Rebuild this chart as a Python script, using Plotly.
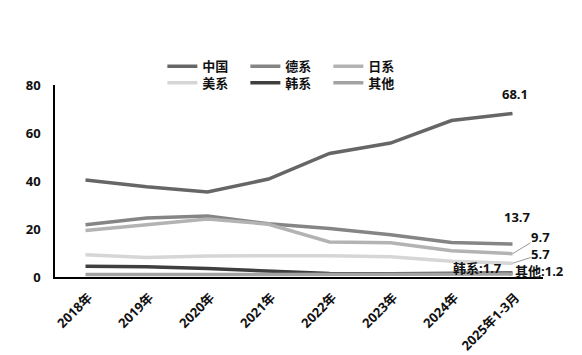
import plotly.graph_objects as go

categories = ["2018年", "2019年", "2020年", "2021年", "2022年", "2023年", "2024年", "2025年1-3月"]
china = [40.4, 37.6, 35.4, 40.8, 51.5, 55.8, 65.2, 68.1]
german = [21.8, 24.6, 25.4, 22.2, 20.2, 17.6, 14.4, 13.7]
japan = [19.4, 21.8, 24.2, 22.0, 14.6, 14.3, 10.9, 9.7]
usa = [9.3, 8.1, 8.8, 8.9, 8.9, 8.4, 6.6, 5.7]
korea = [4.5, 4.3, 3.5, 2.4, 1.5, 1.4, 1.6, 1.7]
others = [1.0, 1.0, 1.1, 1.1, 1.0, 1.1, 1.2, 1.2]
y_ticks = [0, 20, 40, 60, 80]

FONT = "Open Sans, Noto Sans CJK SC, sans-serif"

series = [
    ("中国", china, "#666666", "legend"),
    ("德系", german, "#858585", "legend"),
    ("日系", japan, "#b3b3b3", "legend"),
    ("美系", usa, "#d6d6d6", "legend2"),
    ("韩系", korea, "#3f3f3f", "legend2"),
    ("其他", others, "#a3a3a3", "legend2"),
]

fig = go.Figure()
for name, vals, color, lg in series:
    fig.add_trace(go.Scatter(x=categories, y=vals, mode="lines", name=name,
                             line=dict(color=color, width=3.5), legend=lg))

ann_font = dict(family=FONT, size=13, color="#111111", weight="bold")
last = categories[-1]
fig.add_annotation(x=last, y=china[-1], text=f"{china[-1]}", showarrow=False,
                   yshift=20, xshift=2, font=ann_font)
fig.add_annotation(x=last, y=german[-1], text=f"{german[-1]}", showarrow=False,
                   yshift=27, xshift=5, height=14, borderpad=0, font=ann_font)
fig.add_annotation(x=last, y=japan[-1], text=f"{japan[-1]}", showarrow=True,
                   arrowhead=0, arrowwidth=1, arrowcolor="#999999", borderpad=0,
                   height=14, ax=28, ay=-17, font=ann_font)
fig.add_annotation(x=last, y=usa[-1], text=f"{usa[-1]}", showarrow=True,
                   arrowhead=0, arrowwidth=1, arrowcolor="#999999", borderpad=0,
                   height=14, ax=28, ay=-9, font=ann_font)
fig.add_annotation(x=last, y=korea[-1], text=f"韩系:{korea[-1]}", showarrow=False,
                   xshift=-35, yshift=5, height=14, borderpad=0, font=ann_font)
fig.add_annotation(x=last, y=others[-1], text=f"其他:{others[-1]}", showarrow=False,
                   xshift=27, yshift=3, height=14, borderpad=0, font=ann_font)

leg_font = dict(family=FONT, size=13, color="#111111", weight="bold")
fig.update_layout(
    width=582, height=355,
    margin=dict(l=55, r=39, t=85, b=78, autoexpand=False),
    paper_bgcolor="white", plot_bgcolor="white",
    font=dict(family=FONT),
    legend=dict(orientation="h", x=0.22, y=1.098, xanchor="left", yanchor="middle",
                font=leg_font, entrywidth=38, entrywidthmode="pixels",
                tracegroupgap=0, itemwidth=30, bgcolor="rgba(0,0,0,0)"),
    legend2=dict(orientation="h", x=0.22, y=1.012, xanchor="left", yanchor="middle",
                 font=leg_font, entrywidth=38, entrywidthmode="pixels",
                 tracegroupgap=0, itemwidth=30, bgcolor="rgba(0,0,0,0)"),
    xaxis=dict(type="category", range=[-0.5, 7.5], showgrid=False, showline=True,
               linecolor="#000000", linewidth=1.5, tickangle=-45, ticks="",
               automargin=False, ticklabelshift=3, ticklabelstandoff=6,
               tickfont=dict(family=FONT, size=13, color="#111111", weight="bold")),
    yaxis=dict(range=[0, 80], tickvals=y_ticks, showgrid=False, showline=True,
               linecolor="#000000", linewidth=1.5, ticks="", ticklabelstandoff=10,
               zeroline=False, automargin=False,
               tickfont=dict(family=FONT, size=13, color="#111111", weight="bold")),
)

fig.write_html("out.html")
